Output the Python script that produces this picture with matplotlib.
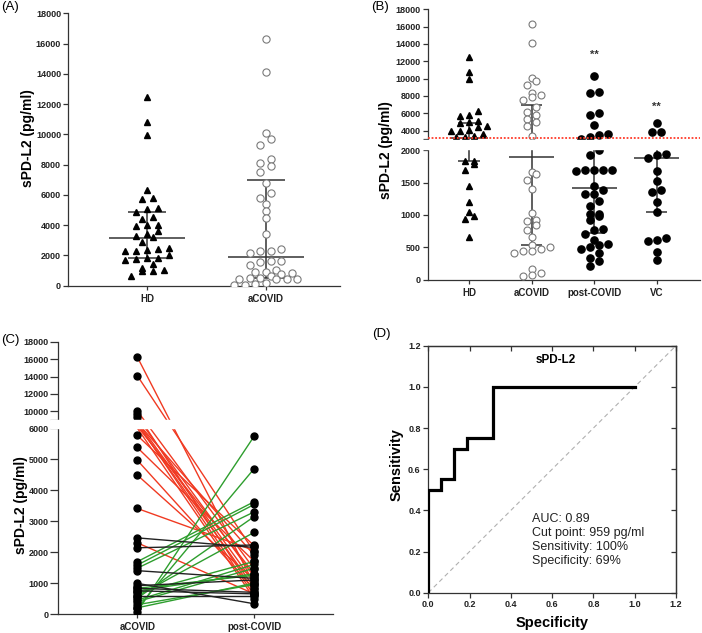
import numpy as np
import matplotlib
matplotlib.use("Agg")
import matplotlib.pyplot as plt
from matplotlib.ticker import FixedLocator, FixedFormatter

plt.rcParams['font.family'] = ['Liberation Sans', 'DejaVu Sans']
plt.rcParams['font.weight'] = 'bold'
plt.rcParams['axes.linewidth'] = 0.9
plt.rcParams['axes.edgecolor'] = '#333333'
plt.rcParams['xtick.color'] = '#333333'
plt.rcParams['ytick.color'] = '#333333'
plt.rcParams['xtick.labelcolor'] = '#222222'
plt.rcParams['ytick.labelcolor'] = '#222222'

# ---------------- data (pg/ml)
groups = ['HD', 'aCOVID', 'post-COVID', 'VC']
hd = [12500, 10800, 9950, 6300, 5800, 5730, 5150, 5050, 4900, 4550, 4400, 4020,
      3990, 3950, 3630, 3420, 3280, 3250, 2870, 2510, 2400, 2360, 2310, 2310,
      2050, 1840, 1840, 1790, 1700, 1450, 1200, 1050, 990, 940, 660]
acovid = [16300, 14100, 10070, 9690, 9300, 8370, 8080, 7900, 7530, 6770, 6110,
          5780, 5380, 4960, 4490, 3420, 2450, 2320, 2310, 2140, 1660, 1630, 1540,
          1400, 1030, 920, 900, 840, 770, 660, 540, 500, 470, 450, 440, 410, 160,
          110, 70, 60]
postcovid = [10300, 8450, 8400, 6050, 5750, 4700, 3620, 3460, 3230, 3080, 2000,
             1930, 1700, 1700, 1700, 1690, 1680, 1450, 1380, 1330, 1330, 1210,
             1140, 1020, 1020, 990, 920, 780, 770, 710, 610, 550, 540, 500, 470,
             420, 330, 290, 210]
vc = [4880, 3810, 3800, 1940, 1920, 1880, 1680, 1530, 1390, 1360, 1200, 1050,
      640, 610, 600, 430, 310]
# median, Q1, Q3
hd_stats = [3120, 1830, 4870]
acovid_stats = [1900, 530, 6960]
post_stats = [1420, 720, 2600]
vc_stats = [1880, 1050, 2500]
hd_median_ref = 3120

# paired samples (panel C)
c_acute = [16250, 14100, 10050, 9650, 9300, 8350, 8100, 7900, 7500, 6800, 6100,
           5770, 5380, 4970, 4490, 3410, 2300,
           75, 180, 1690, 1580, 1480, 510, 580, 670, 450, 400, 750, 200, 300, 830,
           2460, 2140, 1400, 990, 915, 830, 750, 580]
c_post = [950, 2000, 1450, 700, 1200, 1000, 1900, 600, 850, 1300, 500, 2200, 1700,
          800, 1100, 2050, 650,
          5750, 4700, 3630, 3540, 3300, 3150, 2640, 1700, 1600, 1480, 1300, 1000,
          950, 1250,
          2150, 2230, 1150, 330, 1100, 700, 650, 580]
c_trend = ['down'] * 17 + ['up'] * 14 + ['same'] * 8

# ROC (panel D)
roc_spec = [0, 0, 0.0625, 0.0625, 0.125, 0.125, 0.1875, 0.1875, 0.3125, 0.3125, 1.0]
roc_sens = [0, 0.5, 0.5, 0.55, 0.55, 0.70, 0.70, 0.75, 0.75, 1.0, 1.0]

trend_col = {'down': '#f03a22', 'up': '#2e9e2e', 'same': '#222222'}
W, H = 702, 633


def fig_box(l, t, r, b):
    return [l / W, 1 - b / H, (r - l) / W, (b - t) / H]


def broken_scale(ax, knots, pix):
    ax.set_yscale('function', functions=(lambda v: np.interp(v, knots, pix),
                                         lambda d: np.interp(d, pix, knots)))


def swarm(ax, xc, vals, step, row_h):
    vals = np.asarray(vals, float)
    pts = ax.transData.transform(np.column_stack([np.full(len(vals), xc), vals]))
    yd = pts[:, 1]
    x0 = pts[0, 0]
    order = np.argsort(yd)
    rows, cur = [], [order[0]]
    for i in order[1:]:
        if yd[i] - yd[cur[0]] < row_h:
            cur.append(i)
        else:
            rows.append(cur)
            cur = [i]
    rows.append(cur)
    xs = np.zeros(len(vals))
    for r in rows:
        n = len(r)
        for k, i in enumerate(r):
            xs[i] = x0 + (k - (n - 1) / 2) * step
    return ax.transData.inverted().transform(np.column_stack([xs, yd]))[:, 0]


def stat_bars(ax, xc, stats, wm, wc):
    med, q1, q3 = stats
    kw = dict(color='#333333', lw=1.1, zorder=3, solid_capstyle='butt')
    ax.plot([xc - wm, xc + wm], [med, med], **kw)
    ax.plot([xc - wc, xc + wc], [q1, q1], **kw)
    ax.plot([xc - wc, xc + wc], [q3, q3], **kw)
    ax.plot([xc, xc], [q1, q3], **kw)


def base_style(ax):
    for s in ['top', 'right']:
        ax.spines[s].set_visible(False)
    ax.tick_params(axis='y', length=3.5, width=0.9, labelsize=6.5, pad=1.5)
    ax.tick_params(axis='x', length=3, width=0.9, labelsize=7, pad=3)


fig = plt.figure(figsize=(W / 100, H / 100), dpi=100)

# ---------------- (A)
axA = fig.add_axes(fig_box(68, 13.3, 340, 285.7))
base_style(axA)
axA.set_xlim(-0.666, 1.626)
axA.set_ylim(0, 18000)
axA.set_yticks(np.arange(0, 18001, 2000))
axA.set_xticks([0, 1])
axA.set_xticklabels(groups[:2])
xs = swarm(axA, 0, hd, 11, 6)
axA.plot(xs, hd, '^', ms=5, color='black', ls='none', zorder=4)
xs = swarm(axA, 1, acovid, 10.5, 6)
axA.plot(xs, acovid, 'o', ms=5.2, mfc='white', mec='#7a7a7a', mew=0.8, ls='none', zorder=4)
stat_bars(axA, 0, hd_stats, 0.32, 0.16)
stat_bars(axA, 1, acovid_stats, 0.32, 0.16)
fig.text(28 / W, 1 - 138 / H, 'sPD-L2 (pg/ml)', rotation=90, ha='center', va='center', fontsize=10)
fig.text(1 / W, 1 - 1 / H, '(A)', ha='left', va='top', fontsize=9.5, fontweight='normal')

# ---------------- (B)
axB = fig.add_axes(fig_box(427.7, 9.3, 700, 279.7))
base_style(axB)
broken_scale(axB, [0, 2000, 3000, 18000], [0, 129.4, 140.4, 270.4])
axB.set_ylim(0, 18000)
axB.set_xlim(-0.66, 3.69)
ticksB = [0, 500, 1000, 1500, 2000, 3000, 4000, 6000, 8000, 10000, 12000, 14000, 16000, 18000]
axB.yaxis.set_major_locator(FixedLocator(ticksB))
axB.yaxis.set_major_formatter(FixedFormatter([str(t) if t != 3000 else '' for t in ticksB]))
axB.set_xticks(range(4))
axB.set_xticklabels(groups)
b_sets = [(hd, '^', dict(ms=4.6, color='black')),
          (acovid, 'o', dict(ms=5.0, mfc='white', mec='#7a7a7a', mew=0.8)),
          (postcovid, 'o', dict(ms=5.2, color='black')),
          (vc, 'o', dict(ms=5.2, color='black'))]
for i, (vals, mk, st) in enumerate(b_sets):
    v = np.asarray(vals, float)
    v = v[(v <= 2000) | (v >= 3000)]
    xs = swarm(axB, i, v, 9, 6)
    axB.plot(xs, v, mk, ls='none', zorder=4, **st)
for i, s in enumerate([hd_stats, acovid_stats, post_stats, vc_stats]):
    stat_bars(axB, i, s, 0.36 if i else 0.3, 0.17)
axB.axhline(hd_median_ref, color='#ff3b2a', ls=(0, (1, 1)), lw=1.3, zorder=5)
axB.axhspan(2100, 2900, xmin=-0.03, xmax=1.0, color='white', zorder=10, clip_on=False)
axB.text(2, 12700, '**', ha='center', va='center', fontsize=8, color='#333333')
axB.text(3, 6800, '**', ha='center', va='center', fontsize=8, color='#333333')
fig.text(386 / W, 1 - 150 / H, 'sPD-L2 (pg/ml)', rotation=90, ha='center', va='center', fontsize=10)
fig.text(371 / W, 1 - 1 / H, '(B)', ha='left', va='top', fontsize=9.5, fontweight='normal')

# ---------------- (C)
axC = fig.add_axes(fig_box(58.3, 341.7, 333, 614))
base_style(axC)
axC.tick_params(axis='y', length=5.5)
broken_scale(axC, [0, 6000, 9000, 18000], [0, 185.7, 194.0, 272.3])
axC.set_ylim(0, 18000)
axC.set_xlim(-0.675, 1.673)
ticksC = [0, 1000, 2000, 3000, 4000, 5000, 6000, 9000, 10000, 12000, 14000, 16000, 18000]
axC.yaxis.set_major_locator(FixedLocator(ticksC))
axC.yaxis.set_major_formatter(FixedFormatter([str(t) if t != 9000 else '' for t in ticksC]))
axC.set_xticks([0, 1])
axC.set_xticklabels(['aCOVID', 'post-COVID'])
for a, p, t in zip(c_acute, c_post, c_trend):
    axC.plot([0, 1], [a, p], color=trend_col[t], lw=1.0, zorder=2)
ca = np.asarray(c_acute, float)
cp = np.asarray(c_post, float)
ca = ca[(ca <= 6000) | (ca >= 9000)]
cp = cp[(cp <= 6000) | (cp >= 9000)]
axC.plot(np.zeros(len(ca)), ca, 'o', ms=5, color='black', zorder=4, ls='none')
axC.plot(np.ones(len(cp)), cp, 'o', ms=5, color='black', zorder=4, ls='none')
axC.axhspan(6150, 8850, xmin=-0.03, xmax=1.0, color='white', zorder=10, clip_on=False)
fig.text(21 / W, 1 - 505 / H, 'sPD-L2 (pg/ml)', rotation=90, ha='center', va='center', fontsize=10)
fig.text(1 / W, 1 - 334 / H, '(C)', ha='left', va='top', fontsize=9.5, fontweight='normal')

# ---------------- (D)
axD = fig.add_axes(fig_box(428.3, 345.7, 676, 592.7))
axD.set_xlim(0, 1.2)
axD.set_ylim(0, 1.2)
ticksD = np.arange(0, 1.21, 0.2)
axD.set_xticks(ticksD)
axD.set_yticks(ticksD)
axD.xaxis.set_major_formatter(FixedFormatter([f'{t:.1f}' for t in ticksD]))
axD.yaxis.set_major_formatter(FixedFormatter([f'{t:.1f}' for t in ticksD]))
axD.tick_params(length=3.5, width=0.9, labelsize=6.5, pad=2)
for side in ['top', 'right']:
    sec = axD.secondary_xaxis('top') if side == 'top' else axD.secondary_yaxis('right')
    sec.set_ticks(ticksD)
    sec.tick_params(direction='in', length=3.5, width=0.9, labelleft=False, labelright=False,
                    labeltop=False, labelbottom=False)
axD.plot([0, 1.2], [0, 1.2], ls=(0, (4, 3)), color='#b0b0b0', lw=0.8, zorder=1)
axD.plot(roc_spec, roc_sens, color='black', lw=2.3, zorder=3, solid_joinstyle='miter')
axD.text(0.618, 1.13, 'sPD-L2', ha='center', va='center', fontsize=8.5)
axD.text(0.5, 0.385, 'AUC: 0.89\nCut point: 959 pg/ml\nSensitivity: 100%\nSpecificity: 69%',
         ha='left', va='top', fontsize=9, fontweight='normal', linespacing=1.2, color='#222222')
fig.text(397 / W, 1 - 465 / H, 'Sensitivity', rotation=90, ha='center', va='center', fontsize=10.5)
fig.text(552 / W, 1 - 623 / H, 'Specificity', ha='center', va='center', fontsize=10.5)
fig.text(372 / W, 1 - 328 / H, '(D)', ha='left', va='top', fontsize=9.5, fontweight='normal')

fig.savefig('out.png', dpi=100)
